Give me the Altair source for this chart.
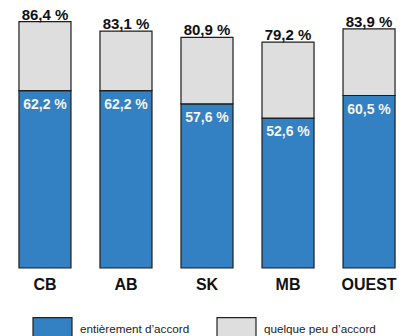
import altair as alt
import pandas as pd

categories = ["CB", "AB", "SK", "MB", "OUEST"]
entierement = [62.2, 62.2, 57.6, 52.6, 60.5]
total = [86.4, 83.1, 80.9, 79.2, 83.9]
series_names = ["entièrement d’accord", "quelque peu d’accord"]
series_colors = ["#3380C2", "#DEDEDE"]

rows = []
for c, b, t in zip(categories, entierement, total):
    rows.append({"cat": c, "serie": series_names[0], "y0": 0.0, "y1": b})
    rows.append({"cat": c, "serie": series_names[1], "y0": b, "y1": t})
bars_df = pd.DataFrame(rows)

lab_df = pd.DataFrame({
    "cat": categories,
    "blue": entierement,
    "total": total,
    "blue_txt": [f"{v:.1f} %".replace(".", ",") for v in entierement],
    "total_txt": [f"{v:.1f} %".replace(".", ",") for v in total],
})

xaxis = alt.Axis(domain=False, ticks=False, grid=False, labelAngle=0,
                 labelFont="Liberation Sans", labelFontSize=16,
                 labelFontWeight="bold", labelColor="#111",
                 labelPadding=8)
xscale = alt.Scale(paddingInner=0.358, paddingOuter=0.123)
yscale = alt.Scale(domain=[0, 94], nice=False)

bars = alt.Chart(bars_df).mark_bar(stroke="#1e1e1e", strokeWidth=1.2).encode(
    x=alt.X("cat:N", sort=categories, title=None, scale=xscale, axis=xaxis),
    y=alt.Y("y0:Q", scale=yscale, axis=None),
    y2="y1:Q",
    color=alt.Color("serie:N", title=None,
                    scale=alt.Scale(domain=series_names, range=series_colors),
                    legend=alt.Legend(orient="none", legendX=23, legendY=308,
                                      direction="horizontal", columns=2,
                                      padding=0, columnPadding=24,
                                      symbolType="M-1,-0.564L1,-0.564L1,0.564L-1,0.564Z",
                                      symbolSize=1521, symbolStrokeColor="#222",
                                      symbolStrokeWidth=1.2, symbolOpacity=1,
                                      labelOffset=7, labelFont="Liberation Sans",
                                      labelFontSize=11.7, labelColor="#222",
                                      labelBaseline="middle")),
)

tot_text = alt.Chart(lab_df).mark_text(
    font="Liberation Sans", fontSize=15, fontWeight="bold", color="#111",
    baseline="alphabetic", dy=-2
).encode(x=alt.X("cat:N", sort=categories, title=None, scale=xscale, axis=xaxis),
         y=alt.Y("total:Q", scale=yscale, axis=None),
         text="total_txt:N")

blue_text = alt.Chart(lab_df).mark_text(
    font="Liberation Sans", fontSize=14, fontWeight="bold", color="#F4F4F4",
    baseline="alphabetic", dy=18
).encode(x=alt.X("cat:N", sort=categories, title=None, scale=xscale, axis=xaxis),
         y=alt.Y("blue:Q", scale=yscale, axis=None),
         text="blue_txt:N")

chart = alt.layer(bars, tot_text, blue_text).properties(
    width=396, height=268,
    background="white",
    autosize=alt.AutoSizeParams(type="none"),
    padding={"left": 9, "top": 0, "right": 0, "bottom": 68},
).configure_view(stroke=None)

chart.save("out.html", embed_options={"renderer": "svg", "actions": False})
